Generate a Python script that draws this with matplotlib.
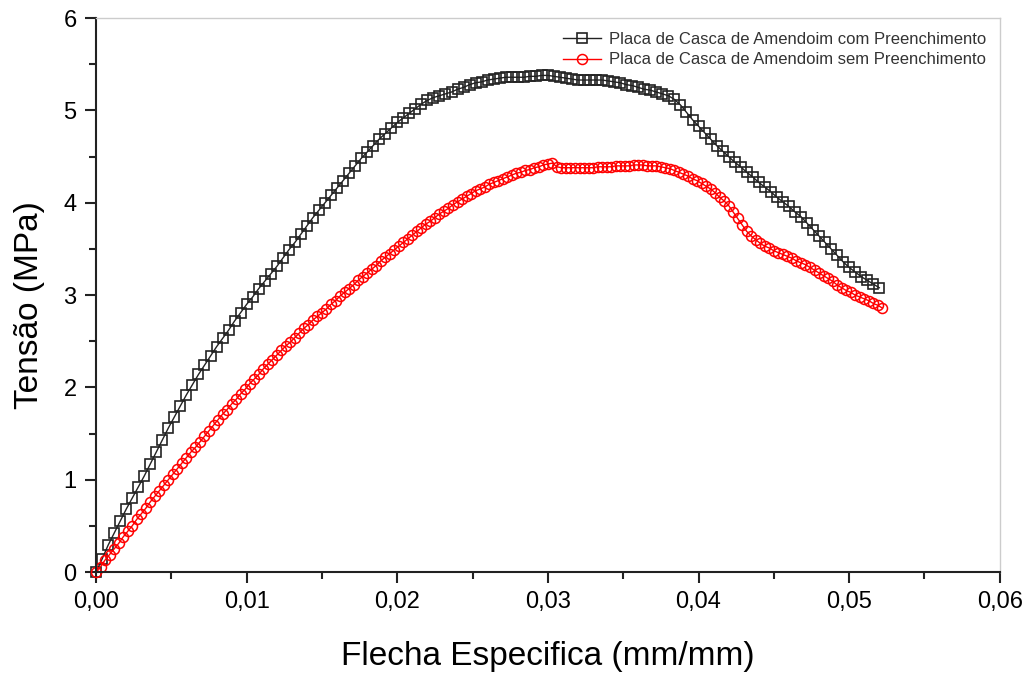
import matplotlib
matplotlib.use("Agg")
import matplotlib.pyplot as plt
from matplotlib.ticker import MultipleLocator, FuncFormatter

plt.rcParams["font.family"] = ["Liberation Sans", "DejaVu Sans"]

# Placa com preenchimento (quadrados pretos)
x_com = [0.0000, 0.0004, 0.0008, 0.0012, 0.0016, 0.0020, 0.0024, 0.0028, 0.0032, 0.0036,
         0.0040, 0.0044, 0.0048, 0.0052, 0.0056, 0.0060, 0.0064, 0.0068, 0.0072, 0.0076,
         0.0080, 0.0084, 0.0088, 0.0092, 0.0096, 0.0100, 0.0104, 0.0108, 0.0112, 0.0116,
         0.0120, 0.0124, 0.0128, 0.0132, 0.0136, 0.0140, 0.0144, 0.0148, 0.0152, 0.0156,
         0.0160, 0.0164, 0.0168, 0.0172, 0.0176, 0.0180, 0.0184, 0.0188, 0.0192, 0.0196,
         0.0200, 0.0204, 0.0208, 0.0212, 0.0216, 0.0220, 0.0224, 0.0228, 0.0232, 0.0236,
         0.0240, 0.0244, 0.0248, 0.0252, 0.0256, 0.0260, 0.0264, 0.0268, 0.0272, 0.0276,
         0.0280, 0.0284, 0.0288, 0.0292, 0.0296, 0.0300, 0.0304, 0.0308, 0.0312, 0.0316,
         0.0320, 0.0324, 0.0328, 0.0332, 0.0336, 0.0340, 0.0344, 0.0348, 0.0352, 0.0356,
         0.0360, 0.0364, 0.0368, 0.0372, 0.0376, 0.0380, 0.0384, 0.0388, 0.0392, 0.0396,
         0.0400, 0.0404, 0.0408, 0.0412, 0.0416, 0.0420, 0.0424, 0.0428, 0.0432, 0.0436,
         0.0440, 0.0444, 0.0448, 0.0452, 0.0456, 0.0460, 0.0464, 0.0468, 0.0472, 0.0476,
         0.0480, 0.0484, 0.0488, 0.0492, 0.0496, 0.0500, 0.0504, 0.0508, 0.0512, 0.0516,
         0.0520]
y_com = [0.00, 0.14, 0.29, 0.42, 0.55, 0.68, 0.80, 0.92, 1.04, 1.17,
         1.30, 1.43, 1.56, 1.68, 1.80, 1.92, 2.03, 2.14, 2.24, 2.34,
         2.44, 2.53, 2.62, 2.72, 2.81, 2.90, 2.98, 3.07, 3.15, 3.23,
         3.31, 3.40, 3.49, 3.57, 3.66, 3.75, 3.84, 3.92, 4.00, 4.08,
         4.16, 4.24, 4.32, 4.40, 4.48, 4.55, 4.62, 4.69, 4.75, 4.81,
         4.87, 4.92, 4.97, 5.02, 5.07, 5.11, 5.14, 5.16, 5.18, 5.20,
         5.23, 5.25, 5.28, 5.30, 5.31, 5.33, 5.34, 5.35, 5.36, 5.36,
         5.36, 5.36, 5.37, 5.37, 5.38, 5.38, 5.37, 5.36, 5.35, 5.34,
         5.33, 5.33, 5.33, 5.33, 5.33, 5.32, 5.31, 5.30, 5.28, 5.27,
         5.25, 5.23, 5.22, 5.20, 5.18, 5.16, 5.12, 5.06, 4.98, 4.90,
         4.83, 4.76, 4.69, 4.62, 4.56, 4.50, 4.44, 4.39, 4.33, 4.28,
         4.22, 4.17, 4.12, 4.06, 4.01, 3.96, 3.90, 3.85, 3.78, 3.71,
         3.64, 3.57, 3.50, 3.43, 3.36, 3.30, 3.25, 3.20, 3.16, 3.12,
         3.08]

# Placa sem preenchimento (circulos vermelhos)
x_sem = [0.0000, 0.0003, 0.0006, 0.0009, 0.0012, 0.0015, 0.0018, 0.0021, 0.0024, 0.0027,
         0.0030, 0.0033, 0.0036, 0.0039, 0.0042, 0.0045, 0.0048, 0.0051, 0.0054, 0.0057,
         0.0060, 0.0063, 0.0066, 0.0069, 0.0072, 0.0075, 0.0078, 0.0081, 0.0084, 0.0087,
         0.0090, 0.0093, 0.0096, 0.0099, 0.0102, 0.0105, 0.0108, 0.0111, 0.0114, 0.0117,
         0.0120, 0.0123, 0.0126, 0.0129, 0.0132, 0.0135, 0.0138, 0.0141, 0.0144, 0.0147,
         0.0150, 0.0153, 0.0156, 0.0159, 0.0162, 0.0165, 0.0168, 0.0171, 0.0174, 0.0177,
         0.0180, 0.0183, 0.0186, 0.0189, 0.0192, 0.0195, 0.0198, 0.0201, 0.0204, 0.0207,
         0.0210, 0.0213, 0.0216, 0.0219, 0.0222, 0.0225, 0.0228, 0.0231, 0.0234, 0.0237,
         0.0240, 0.0243, 0.0246, 0.0249, 0.0252, 0.0255, 0.0258, 0.0261, 0.0264, 0.0267,
         0.0270, 0.0273, 0.0276, 0.0279, 0.0282, 0.0285, 0.0288, 0.0291, 0.0294, 0.0297,
         0.0300, 0.0303, 0.0306, 0.0309, 0.0312, 0.0315, 0.0318, 0.0321, 0.0324, 0.0327,
         0.0330, 0.0333, 0.0336, 0.0339, 0.0342, 0.0345, 0.0348, 0.0351, 0.0354, 0.0357,
         0.0360, 0.0363, 0.0366, 0.0369, 0.0372, 0.0375, 0.0378, 0.0381, 0.0384, 0.0387,
         0.0390, 0.0393, 0.0396, 0.0399, 0.0402, 0.0405, 0.0408, 0.0411, 0.0414, 0.0417,
         0.0420, 0.0423, 0.0426, 0.0429, 0.0432, 0.0435, 0.0438, 0.0441, 0.0444, 0.0447,
         0.0450, 0.0453, 0.0456, 0.0459, 0.0462, 0.0465, 0.0468, 0.0471, 0.0474, 0.0477,
         0.0480, 0.0483, 0.0486, 0.0489, 0.0492, 0.0495, 0.0498, 0.0501, 0.0504, 0.0507,
         0.0510, 0.0513, 0.0516, 0.0519, 0.0522]
y_sem = [0.00, 0.06, 0.13, 0.19, 0.25, 0.31, 0.38, 0.44, 0.50, 0.57,
         0.63, 0.69, 0.76, 0.82, 0.88, 0.94, 1.00, 1.06, 1.12, 1.18,
         1.24, 1.30, 1.35, 1.41, 1.47, 1.53, 1.59, 1.65, 1.71, 1.76,
         1.82, 1.87, 1.93, 1.98, 2.04, 2.09, 2.14, 2.20, 2.25, 2.30,
         2.35, 2.40, 2.45, 2.49, 2.54, 2.59, 2.64, 2.68, 2.73, 2.77,
         2.81, 2.85, 2.90, 2.94, 2.99, 3.03, 3.07, 3.11, 3.16, 3.20,
         3.24, 3.28, 3.32, 3.37, 3.41, 3.45, 3.49, 3.53, 3.57, 3.61,
         3.65, 3.69, 3.73, 3.77, 3.80, 3.84, 3.88, 3.91, 3.94, 3.98,
         4.01, 4.04, 4.07, 4.10, 4.13, 4.15, 4.17, 4.20, 4.22, 4.24,
         4.26, 4.28, 4.30, 4.32, 4.33, 4.35, 4.36, 4.38, 4.39, 4.41,
         4.42, 4.43, 4.39, 4.38, 4.38, 4.38, 4.38, 4.38, 4.38, 4.38,
         4.38, 4.39, 4.39, 4.39, 4.39, 4.40, 4.40, 4.40, 4.40, 4.41,
         4.41, 4.41, 4.40, 4.40, 4.40, 4.39, 4.38, 4.37, 4.35, 4.33,
         4.31, 4.29, 4.26, 4.24, 4.21, 4.18, 4.15, 4.11, 4.06, 4.02,
         3.97, 3.90, 3.83, 3.76, 3.69, 3.64, 3.60, 3.56, 3.53, 3.51,
         3.48, 3.46, 3.44, 3.42, 3.40, 3.37, 3.35, 3.33, 3.30, 3.27,
         3.24, 3.21, 3.18, 3.15, 3.11, 3.08, 3.05, 3.03, 3.00, 2.98,
         2.96, 2.94, 2.91, 2.89, 2.86]

fig = plt.figure(figsize=(10.27, 6.73), dpi=100)
ax = fig.add_axes([0.0935, 0.150, 0.880, 0.823])

ax.plot(x_com, y_com, color='#222222', lw=1.0, marker='s', ms=7.5, mfc='none',
        mec='#222222', mew=1.2, label='Placa de Casca de Amendoim com Preenchimento', clip_on=False)
ax.plot(x_sem, y_sem, color='red', lw=1.0, marker='o', ms=7.2, mfc='none',
        mec='red', mew=1.1, label='Placa de Casca de Amendoim sem Preenchimento', clip_on=False)

ax.set_xlim(0, 0.06)
ax.set_ylim(0, 6)
ax.xaxis.set_major_locator(MultipleLocator(0.01))
ax.xaxis.set_minor_locator(MultipleLocator(0.005))
ax.yaxis.set_major_locator(MultipleLocator(1))
ax.yaxis.set_minor_locator(MultipleLocator(0.5))
ax.xaxis.set_major_formatter(FuncFormatter(lambda v, p: ('%.2f' % v).replace('.', ',')))
ax.yaxis.set_major_formatter(FuncFormatter(lambda v, p: '%d' % round(v)))

for s in ['left', 'bottom']:
    ax.spines[s].set_linewidth(1.5)
    ax.spines[s].set_color('#222222')
for s in ['top', 'right']:
    ax.spines[s].set_linewidth(1.0)
    ax.spines[s].set_color('#cccccc')

ax.tick_params(which='major', direction='out', length=8, width=1.5, labelsize=17, color='#222222', pad=6)
ax.tick_params(which='minor', direction='out', length=5, width=1.5, color='#222222')
ax.tick_params(top=False, right=False, which='both')

ax.set_xlabel('Flecha Especifica (mm/mm)', fontsize=24, labelpad=20)
ax.set_ylabel('Tensão (MPa)', fontsize=24)
ax.yaxis.set_label_coords(-0.056, 0.482)

ax.legend(loc='upper right', frameon=False, fontsize=12, handlelength=2.3,
          handletextpad=0.5, borderaxespad=0.4, labelspacing=0.35, labelcolor='#333333')

fig.savefig('out.png', dpi=100)
